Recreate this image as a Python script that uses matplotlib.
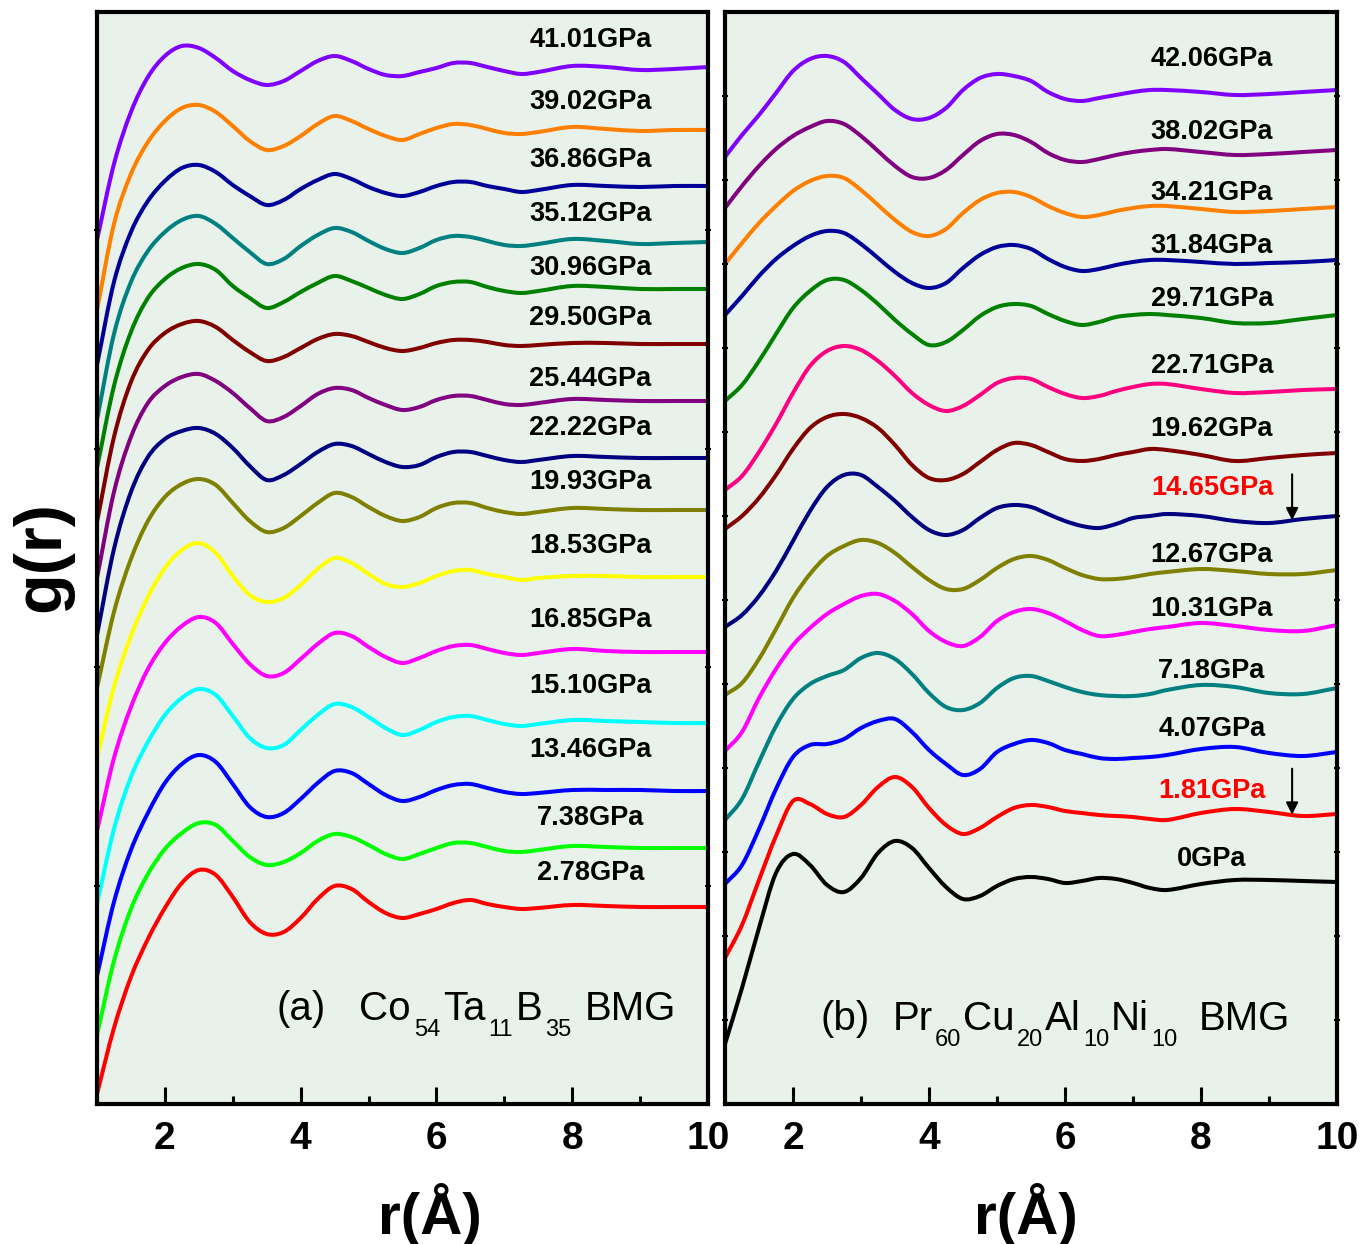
import numpy as np
import matplotlib.pyplot as plt
import matplotlib.transforms as mtransforms
from matplotlib.path import Path
from matplotlib.patches import PathPatch
from matplotlib.ticker import MultipleLocator

plt.rcParams["font.family"] = ["Liberation Sans", "DejaVu Sans"]

# r grid (Angstrom) shared by all curves
r = [1.0, 1.25, 1.5, 1.75, 2.0, 2.25, 2.5, 2.75, 3.0, 3.25, 3.5, 3.75, 4.0,
     4.25, 4.5, 4.75, 5.0, 5.25, 5.5, 5.75, 6.0, 6.25, 6.5, 6.75, 7.0, 7.25,
     7.5, 8.0, 8.5, 9.0, 9.5, 10.0]

# ---- panel (a): Co54Ta11B35, stacked g(r) (arbitrary units, offset) ----
p_a = ["41.01", "39.02", "36.86", "35.12", "30.96", "29.50", "25.44", "22.22",
       "19.93", "18.53", "16.85", "15.10", "13.46", "7.38", "2.78"]
colors_a = ["#8000ff", "#ff8000", "#000099", "#008080", "#008000", "#800000",
            "#800080", "#000080", "#808000", "#ffff00", "#ff00ff", "#00ffff",
            "#0000ff", "#00ff00", "#ff0000"]

g_a_4101 = [864, 940, 992, 1027, 1048, 1058, 1056, 1046, 1033, 1024, 1019, 1023, 1033, 1043, 1048, 1043,
            1035, 1029, 1028, 1032, 1036, 1041, 1041, 1037, 1033, 1030, 1032, 1038, 1037, 1034, 1035, 1037]
g_a_3902 = [794, 880, 930, 962, 983, 996, 999, 992, 978, 963, 954, 958, 968, 980, 988, 983,
            975, 968, 964, 970, 976, 980, 979, 975, 971, 970, 972, 977, 975, 973, 974, 974]
g_a_3686 = [739, 822, 872, 903, 923, 936, 939, 932, 919, 908, 899, 904, 915, 924, 930, 925,
            917, 911, 908, 912, 918, 922, 922, 918, 915, 912, 914, 919, 918, 917, 918, 918]
g_a_3512 = [684, 770, 822, 853, 872, 884, 888, 880, 866, 852, 840, 845, 858, 869, 876, 872,
            863, 855, 851, 856, 864, 868, 867, 863, 859, 858, 860, 865, 863, 860, 861, 862]
g_a_3096 = [636, 718, 772, 806, 825, 836, 840, 834, 818, 806, 796, 802, 812, 821, 828, 823,
            816, 809, 805, 810, 818, 822, 822, 817, 813, 811, 813, 818, 817, 815, 815, 815]
g_a_2950 = [582, 667, 722, 754, 771, 780, 783, 777, 764, 752, 743, 747, 756, 765, 770, 768,
            762, 756, 753, 756, 761, 764, 764, 762, 759, 758, 759, 761, 761, 760, 760, 760]
g_a_2544 = [526, 612, 667, 701, 718, 727, 730, 723, 711, 696, 683, 687, 698, 710, 716, 714,
            706, 699, 694, 697, 704, 708, 708, 704, 700, 699, 701, 705, 704, 703, 703, 703]
g_a_2222 = [469, 555, 612, 647, 665, 673, 676, 670, 656, 638, 624, 629, 640, 652, 660, 658,
            650, 642, 637, 639, 647, 652, 652, 648, 644, 642, 644, 648, 647, 646, 646, 646]
g_a_1993 = [416, 492, 545, 583, 607, 620, 625, 619, 601, 583, 572, 576, 588, 601, 611, 607,
            597, 588, 583, 587, 596, 601, 601, 596, 592, 590, 592, 596, 595, 594, 594, 594]
g_a_1853 = [346, 417, 468, 507, 536, 554, 561, 551, 528, 509, 502, 506, 519, 535, 546, 541,
            530, 520, 517, 521, 528, 533, 534, 530, 527, 524, 526, 528, 528, 527, 527, 527]
g_a_1685 = [273, 346, 397, 435, 461, 478, 487, 481, 460, 440, 428, 431, 445, 460, 471, 468,
            457, 447, 441, 446, 453, 458, 459, 455, 451, 449, 451, 455, 453, 452, 452, 452]
g_a_1510 = [200, 275, 327, 362, 389, 406, 415, 409, 388, 366, 356, 359, 374, 389, 400, 397,
            387, 376, 369, 374, 382, 387, 388, 384, 380, 378, 380, 384, 383, 382, 381, 381]
g_a_1346 = [128, 202, 254, 291, 321, 340, 349, 342, 320, 297, 287, 291, 305, 321, 333, 331,
            320, 309, 303, 307, 314, 319, 320, 316, 312, 310, 311, 314, 314, 314, 313, 313]
g_a_0738 = [69, 143, 195, 230, 255, 271, 281, 279, 263, 247, 239, 242, 251, 263, 270, 267,
            259, 250, 245, 250, 256, 261, 261, 257, 253, 252, 254, 258, 257, 256, 256, 256]
g_a_0278 = [10, 76, 127, 165, 196, 221, 234, 229, 207, 182, 170, 172, 186, 205, 218, 215,
            202, 191, 186, 190, 195, 201, 204, 200, 197, 195, 196, 199, 198, 197, 197, 197]

curves_a = [g_a_4101, g_a_3902, g_a_3686, g_a_3512, g_a_3096, g_a_2950, g_a_2544,
            g_a_2222, g_a_1993, g_a_1853, g_a_1685, g_a_1510, g_a_1346, g_a_0738, g_a_0278]

# ---- panel (b): Pr60Cu20Al10Ni10 ----
p_b = ["42.06", "38.02", "34.21", "31.84", "29.71", "22.71", "19.62", "14.65",
       "12.67", "10.31", "7.18", "4.07", "1.81", "0"]
colors_b = ["#8000ff", "#800080", "#ff8000", "#000099", "#008000", "#ff0080",
            "#800000", "#000080", "#808000", "#ff00ff", "#008080", "#0000ff",
            "#ff0000", "#000000"]
highlight_b = ["14.65", "1.81"]

g_b_4206 = [947, 969, 989, 1011, 1033, 1045, 1048, 1042, 1026, 1010, 994, 985, 986, 996, 1014, 1026,
            1030, 1028, 1023, 1012, 1005, 1003, 1006, 1009, 1012, 1014, 1014, 1012, 1009, 1010, 1012, 1014]
g_b_3802 = [896, 918, 938, 955, 968, 977, 983, 980, 968, 953, 938, 927, 926, 934, 949, 963,
            970, 969, 962, 951, 944, 942, 945, 949, 952, 954, 955, 952, 949, 950, 952, 954]
g_b_3421 = [840, 861, 881, 898, 913, 923, 928, 926, 914, 899, 884, 872, 868, 875, 891, 904,
            911, 912, 907, 898, 891, 887, 889, 893, 896, 898, 898, 895, 892, 893, 895, 897]
g_b_3184 = [789, 808, 828, 845, 858, 868, 873, 871, 860, 846, 832, 821, 816, 821, 836, 849,
            857, 859, 855, 845, 837, 833, 835, 839, 842, 844, 844, 842, 840, 841, 842, 844]
g_b_2971 = [703, 719, 743, 770, 796, 813, 824, 824, 814, 800, 784, 770, 759, 762, 774, 788,
            797, 800, 798, 790, 783, 779, 782, 787, 789, 790, 789, 786, 781, 781, 785, 789]
g_b_2271 = [614, 628, 652, 680, 711, 738, 753, 758, 754, 743, 728, 711, 699, 693, 698, 709,
            721, 726, 725, 717, 710, 706, 708, 713, 717, 720, 720, 715, 711, 712, 714, 715]
g_b_1962 = [575, 588, 606, 629, 655, 676, 687, 690, 686, 676, 659, 639, 626, 624, 630, 642,
            654, 661, 659, 652, 645, 643, 645, 649, 652, 655, 654, 649, 643, 646, 649, 651]
g_b_1465 = [477, 489, 508, 533, 563, 593, 617, 629, 629, 617, 603, 587, 574, 569, 574, 586,
            596, 599, 597, 590, 583, 578, 576, 580, 586, 588, 590, 588, 583, 581, 585, 588]
g_b_1267 = [409, 421, 445, 475, 506, 530, 548, 558, 564, 561, 551, 537, 524, 515, 515, 524,
            536, 545, 548, 544, 536, 529, 525, 525, 527, 530, 532, 535, 533, 530, 530, 534]
g_b_1031 = [353, 372, 406, 435, 459, 476, 490, 500, 508, 510, 503, 490, 473, 462, 458, 467,
            483, 492, 495, 491, 483, 474, 468, 469, 472, 475, 477, 481, 478, 474, 473, 479]
g_b_0718 = [284, 305, 342, 378, 405, 420, 428, 434, 446, 451, 445, 430, 411, 397, 394, 401,
            416, 426, 428, 423, 417, 412, 409, 408, 408, 410, 414, 419, 417, 411, 410, 416]
g_b_0407 = [220, 239, 275, 315, 347, 359, 360, 365, 376, 383, 385, 372, 354, 340, 329, 335,
            352, 360, 364, 361, 354, 350, 346, 345, 346, 347, 349, 355, 357, 351, 348, 352]
g_b_0181 = [146, 179, 224, 268, 303, 300, 290, 287, 299, 317, 327, 317, 296, 279, 270, 276,
            287, 296, 299, 297, 293, 291, 289, 288, 287, 285, 284, 291, 295, 292, 288, 290]
g_b_0000 = [60, 116, 176, 231, 250, 239, 219, 212, 226, 251, 263, 256, 236, 217, 205, 208,
            218, 225, 227, 225, 221, 223, 226, 225, 221, 216, 214, 220, 224, 224, 223, 222]

curves_b = [g_b_4206, g_b_3802, g_b_3421, g_b_3184, g_b_2971, g_b_2271, g_b_1962,
            g_b_1465, g_b_1267, g_b_1031, g_b_0718, g_b_0407, g_b_0181, g_b_0000]

# layout: label height above the curve tail
label_off_a = [27, 27, 26, 27, 19, 25, 21, 29, 27, 30, 31, 35, 40, 29, 33]
label_off_b = [33, 20, 16, 16, 19, 23, 26, 28, 14, 14, 14, 20, 22, 25]

BG = "#e8f2ea"
YMAX = 1092


def smooth_line(ax, x, y, color, lw=2.9):
    """Draw a smooth (cubic Hermite) line through the given points."""
    x = np.asarray(x, float)
    y = np.asarray(y, float)
    m = np.empty_like(y)
    m[1:-1] = (y[2:] - y[:-2]) / (x[2:] - x[:-2])
    m[0] = (y[1] - y[0]) / (x[1] - x[0])
    m[-1] = (y[-1] - y[-2]) / (x[-1] - x[-2])
    verts = [(x[0], y[0])]
    codes = [Path.MOVETO]
    for i in range(len(x) - 1):
        h = x[i + 1] - x[i]
        verts += [(x[i] + h / 3, y[i] + m[i] * h / 3),
                  (x[i + 1] - h / 3, y[i + 1] - m[i + 1] * h / 3),
                  (x[i + 1], y[i + 1])]
        codes += [Path.CURVE4] * 3
    ax.add_patch(PathPatch(Path(verts, codes), fill=False, edgecolor=color,
                           lw=lw, joinstyle="round", capstyle="round"))


def rich_text(ax, x, y, pieces, size=29, sub_size=17, sub_drop=11.5, pad=2.0):
    """Write text pieces one after another; ('_', s) is a subscript, ('gap', pt) a gap."""
    fig = ax.figure
    renderer = fig.canvas.get_renderer()
    dx = 0.0
    for kind, s in pieces:
        if kind == "gap":
            dx += s
            continue
        sub = kind == "_"
        tr = mtransforms.offset_copy(ax.transData, fig=fig, x=dx,
                                     y=-sub_drop if sub else 0, units="points")
        t = ax.text(x, y, s, transform=tr, ha="left", va="baseline",
                    fontsize=sub_size if sub else size)
        dx += t.get_window_extent(renderer).width * 72 / fig.dpi + pad


def style_axes(ax, n_ytick):
    ax.set_facecolor(BG)
    ax.set_xlim(1, 10)
    ax.set_ylim(0, YMAX)
    for sp in ax.spines.values():
        sp.set_linewidth(3.0)
        sp.set_zorder(5)
    ax.set_xticks([2, 4, 6, 8, 10])
    ax.xaxis.set_minor_locator(MultipleLocator(1))
    ax.tick_params(axis="x", which="major", direction="in", length=12, width=2.2,
                   pad=12, labelsize=28)
    ax.tick_params(axis="x", which="minor", direction="in", length=6, width=2.2)
    ax.set_yticks(np.arange(1, n_ytick) * YMAX / n_ytick)
    ax.tick_params(axis="y", which="major", direction="inout", length=5, width=1.5,
                   left=True, right=True, labelleft=False, labelright=False)
    for lbl in ax.get_xticklabels():
        lbl.set_fontweight("bold")
    ax.set_xlabel("r(Å)", fontsize=42, fontweight="bold")


fig = plt.figure(figsize=(13.64, 12.44), dpi=100)
ax_a = fig.add_axes([97 / 1364, 140 / 1244, 611 / 1364, 1092 / 1244])
ax_b = fig.add_axes([725 / 1364, 140 / 1244, 612 / 1364, 1092 / 1244])

# panel (a)
for g, c, p, off in zip(curves_a, colors_a, p_a, label_off_a):
    smooth_line(ax_a, r, g, c)
    ax_a.text(8.27, g[28] + off, p + "GPa", ha="center", va="center",
              fontsize=19.5, fontweight="bold", color="black")
style_axes(ax_a, 5)
ax_a.xaxis.set_label_coords(0.545, -0.072)
rich_text(ax_a, 3.65, 84, [("", "(a)"), ("gap", 22), ("", "Co"), ("_", "54"),
                           ("", "Ta"), ("_", "11"), ("", "B"), ("_", "35"),
                           ("gap", 8), ("", "BMG")])

# panel (b)
for g, c, p, off in zip(curves_b, colors_b, p_b, label_off_b):
    smooth_line(ax_b, r, g, c)
    tc = "red" if p in highlight_b else "black"
    ax_b.text(8.16, g[27] + off, p + "GPa", ha="center", va="center",
              fontsize=19.5, fontweight="bold", color=tc)
    if p in highlight_b:
        tip = np.interp(9.34, r, g)
        ax_b.annotate("", xy=(9.34, tip), xytext=(9.34, tip + 46),
                      arrowprops=dict(arrowstyle="-|>", color="black", lw=1.5,
                                      mutation_scale=18, shrinkA=0, shrinkB=0))
style_axes(ax_b, 13)
ax_b.xaxis.set_label_coords(0.492, -0.072)
rich_text(ax_b, 2.40, 74, [("", "(b)"), ("gap", 15), ("", "Pr"), ("_", "60"),
                           ("", "Cu"), ("_", "20"), ("", "Al"), ("_", "10"),
                           ("", "Ni"), ("_", "10"), ("gap", 14), ("", "BMG")],
          pad=1.5)

fig.text(42 / 1364, 1 - 556 / 1244, "g(r)", rotation=90, ha="center", va="center",
         fontsize=48, fontweight="bold")

fig.savefig("out.png", dpi=100, facecolor="white")
